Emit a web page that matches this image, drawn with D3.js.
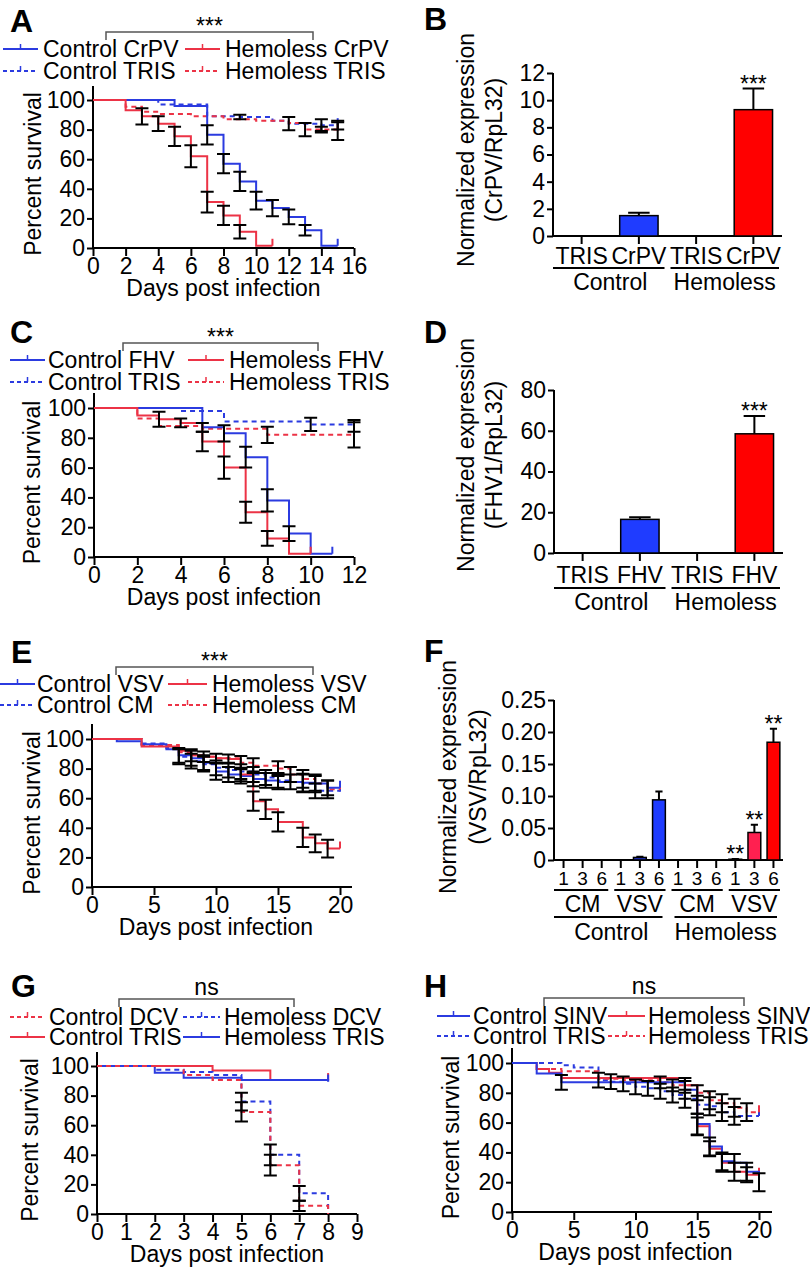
<!DOCTYPE html>
<html>
<head>
<meta charset="utf-8">
<script src="https://cdn.jsdelivr.net/npm/d3@7"></script>
<style>
body { margin: 0; background: #fff; }
svg { font-family: "Liberation Sans", Arial, sans-serif; }
.letter { font-weight: bold; font-size: 32px; }
.tick text { font-size: 23px; fill: #000; }
.tick line { stroke: #000; stroke-width: 2; }
</style>
</head>
<body>
<svg id="fig" width="810" height="1269"></svg>
<script>
// survival curves: [day, % survival, sem]  (sem only where an error bar is drawn)
// A - CrPV
var aCtrlCrpv = [[0,100],[5,96],[7,76.5,6.5],[8,57,6.5],[9,45,6.5],[10,32,6],[11,27,5.5],[12,21,5],[13,12,3.5],[14,1.5],[15,1.5]];
var aHemoCrpv = [[0,100],[2,93],[3,89,5.5],[4,84,5],[5,75.5,6.5],[6,62,7.5],[7,31,7],[8,22,6.5],[9,11,4.5],[10,1.5],[11,1.5]];
var aCtrlTris = [[0,100],[4,97],[7,89],[9,88.5,1.5],[11,86],[12,84,4.5],[14,83,4],[15,83,3]];
var aHemoTris = [[0,100],[2,95.5],[3,92],[4,90.5],[6,89],[8,87],[10,86],[12,84.5],[13,80,4.5],[14,80,2],[15,79,6]];

// C - FHV
var cCtrlFhv = [[0,100],[5,87,3],[6,83,5.5],[7,67,7],[8,38,7.5],[9,15.7,5],[10,2.2],[11,2.2]];
var cHemoFhv = [[0,100],[2,95],[3,92.5,5],[4,90,3],[5,77.5,6.5],[6,60,7.5],[7,30,7],[8,12.5,5],[9,2.2],[10,2.2]];
var cCtrlTris = [[0,100],[4,98],[6,91],[10,89,4.5],[12,88,4]];
var cHemoTris = [[0,100],[2,93],[3,88],[5,86],[8,82,5.5],[12,82,8.5]];

// E - VSV
var eCtrlVsv = [[0,100],[2,98.5],[4,96.5],[6,93],[7,89,5],[8,87,5],[9,84,5],[10,78,5.5],[11,76,5],[12,75,5],[13,73,5],[14,72,5],[15,71,5],[17,70.5,6],[18,70,5],[19,67,5],[20,67]];
var eHemoVsv = [[0,100],[4,95],[7,92],[8,89,4],[9,88,3.5],[10,87,3],[11,86.5,3],[12,76,4.5],[13,58,6.5],[14,52.5,6.5],[15,44,6.5],[17,33.5,6.5],[18,29.5,6],[19,26,6],[20,26]];
var eCtrlCm = [[0,100],[4,97],[6,94],[7,88,5],[8,85,5],[9,83,5],[10,80.5,5],[11,79,5],[12,78,5],[13,76,5],[14,74,5],[15,72,5],[16,71,5],[17,70,6],[18,65,5],[20,64.5]];
var eHemoCm = [[0,100],[4,96],[7,91],[8,89],[9,88],[10,87],[12,84,4.5],[13,82,5],[15,80,5],[16,76,5],[17,73,6],[18,70,6],[19,66,6],[20,66]];

// G - DCV
var gCtrlDcv = [[0,100],[3,94],[4,90.5],[5,69,6.5],[6,33,7],[7,5.5,3.5],[8,0]];
var gHemoDcv = [[0,100],[2,97.5],[3,96],[4,94],[5,76,6],[6,40,7],[7,14,5],[8,0]];
var gCtrlTris = [[0,100],[4,97],[6,90.5],[8,90.5]];
var gHemoTris = [[0,100],[2,95.5],[3,92],[5,90.5],[8,89.5]];

// H - SINV
var hCtrlSinv = [[0,100],[2,93],[4,87,5],[14,82,6],[15,59,7],[16,44,6],[17,34,6],[18,33,6],[19,27,6],[20,20,6]];
var hHemoSinv = [[0,100],[2,96],[3,93.5],[4,90],[14,85,5],[15,57.5,6],[16,42.5,5],[17,33,6],[18,27,6],[19,25,5],[20,25]];
var hCtrlTris = [[0,100],[4,98.5],[5,97],[7,88.5,5],[8,87.5,5],[9,86,5],[10,84,5],[11,83,5],[12,81,5],[13,78.5,5],[14,76,6],[15,72,6],[16,71,6],[17,67,6],[18,64.5,6],[20,64.5]];
var hHemoTris = [[0,100],[2,96],[4,94.5],[7,89.5],[9,88.5],[12,87,4],[13,85,4],[15,80,5],[16,75,6],[17,73,6],[18,70,6],[19,67,6],[20,67]];

// bar charts
var bCats = ['TRIS', 'CrPV', 'TRIS', 'CrPV'];
var bGroups = ['Control', 'Hemoless'];
var bMean = [0, 1.5, 0, 9.3];
var bSem = [0, 0.22, 0, 1.55];
var bSig = ['', '', '', '***'];
var bTicks = [0, 2, 4, 6, 8, 10, 12];

var dCats = ['TRIS', 'FHV', 'TRIS', 'FHV'];
var dGroups = ['Control', 'Hemoless'];
var dMean = [0, 16.5, 0, 58.5];
var dSem = [0, 1.1, 0, 8.8];
var dSig = ['', '', '', '***'];
var dTicks = [0, 20, 40, 60, 80];

var fHours = ['1', '3', '6', '1', '3', '6', '1', '3', '6', '1', '3', '6'];
var fTreat = ['CM', 'VSV', 'CM', 'VSV'];
var fGroups = ['Control', 'Hemoless'];
var fMean = [0, 0, 0, 0, 0.004, 0.094, 0, 0, 0, 0.0012, 0.043, 0.184];
var fSem = [0, 0, 0, 0, 0.001, 0.013, 0, 0, 0, 0.0004, 0.012, 0.021];
var fSig = ['', '', '', '', '', '', '', '', '', '**', '**', '**'];
var fTicks = [0, 0.05, 0.10, 0.15, 0.20, 0.25];

var BLUE = '#2b3be0';
var RED = '#ec3346';
var BAR_BLUE = '#1f3cff';
var BAR_RED = '#ff0000';
var FONT = '23px';

var svg = d3.select('#fig');

function drawSurvival(p) {
    var g = svg.append('g');
    var x = d3.scaleLinear().domain(p.xDomain).range([p.left, p.right]);
    var y = d3.scaleLinear().domain([0, 100]).range([p.bottom, p.top]);

    g.append('text')
        .attr('class', 'letter')
        .attr('x', p.letter[0])
        .attr('y', p.letter[1])
        .text(p.name);

    // significance bracket over the legend
    var b = p.bracket;
    g.append('path')
        .attr('d', 'M' + b.x1 + ',' + (b.y + 8) + 'V' + b.y + 'H' + b.x2 + 'V' + (b.y + 8))
        .attr('fill', 'none')
        .attr('stroke', '#555')
        .attr('stroke-width', 1.5);

    g.append('text')
        .attr('x', (b.x1 + b.x2) / 2)
        .attr('y', b.label === 'ns' ? b.y - 4 : b.y + 2)
        .attr('text-anchor', 'middle')
        .style('font-size', FONT)
        .text(b.label);

    // legend
    p.series.forEach(function(s) {
        var ly = p.legend.rows[s.row];
        var c = p.legend.cols[s.col];

        g.append('line')
            .attr('x1', c[0]).attr('x2', c[1])
            .attr('y1', ly).attr('y2', ly)
            .attr('stroke', s.color)
            .attr('stroke-width', 2)
            .attr('stroke-dasharray', s.dash ? '4,3' : null);

        g.append('line')
            .attr('x1', (c[0] + c[1]) / 2).attr('x2', (c[0] + c[1]) / 2)
            .attr('y1', ly).attr('y2', ly - 5)
            .attr('stroke', s.color)
            .attr('stroke-width', 1.5);

        g.append('text')
            .attr('x', c[2])
            .attr('y', ly + 8)
            .style('font-size', FONT)
            .text(s.name);
    });

    // axes
    var xAxis = g.append('g')
        .attr('transform', 'translate(0,' + p.bottom + ')')
        .call(d3.axisBottom(x).tickValues(p.xTicks).tickSize(8).tickPadding(2));
    xAxis.select('.domain').remove();

    var yAxis = g.append('g')
        .attr('transform', 'translate(' + p.left + ',0)')
        .call(d3.axisLeft(y).tickValues([0, 20, 40, 60, 80, 100]).tickSize(6).tickPadding(2));
    yAxis.select('.domain').remove();

    g.append('path')
        .attr('d', 'M' + p.left + ',' + p.axisTop + 'V' + p.bottom + 'H' + p.axisEnd)
        .attr('fill', 'none')
        .attr('stroke', '#000')
        .attr('stroke-width', 2);

    g.append('text')
        .attr('transform', 'translate(' + p.yLabelX + ',' + (p.top + p.bottom) / 2 + ') rotate(-90)')
        .attr('text-anchor', 'middle')
        .style('font-size', FONT)
        .text('Percent survival');

    g.append('text')
        .attr('x', (p.left + p.right) / 2)
        .attr('y', p.bottom + 48)
        .attr('text-anchor', 'middle')
        .style('font-size', FONT)
        .text('Days post infection');

    // Kaplan-Meier step curves
    var line = d3.line()
        .x(function(d) { return x(d[0]); })
        .y(function(d) { return y(d[1]); })
        .curve(d3.curveStepAfter);

    p.series.forEach(function(s) {
        g.append('path')
            .attr('d', line(s.data))
            .attr('fill', 'none')
            .attr('stroke', s.color)
            .attr('stroke-width', 2)
            .attr('stroke-dasharray', s.dash ? '5,4' : null);

        var last = s.data[s.data.length - 1];
        if (last[1] > 0) {
            g.append('line')
                .attr('x1', x(last[0])).attr('x2', x(last[0]))
                .attr('y1', y(last[1])).attr('y2', y(last[1]) - 7)
                .attr('stroke', s.color)
                .attr('stroke-width', 2);
        }
    });

    // error bars on top
    p.series.forEach(function(s) {
        s.data.filter(function(d) { return d[2]; }).forEach(function(d) {
            var cx = x(d[0]);
            var lo = y(d[1] - d[2]);
            var hi = y(d[1] + d[2]);
            g.append('path')
                .attr('d', 'M' + cx + ',' + lo + 'V' + hi +
                    'M' + (cx - 6.5) + ',' + lo + 'H' + (cx + 6.5) +
                    'M' + (cx - 6.5) + ',' + hi + 'H' + (cx + 6.5))
                .attr('fill', 'none')
                .attr('stroke', '#000')
                .attr('stroke-width', 2);
        });
    });
}

function drawBars(p) {
    var g = svg.append('g');
    var x = d3.scaleBand()
        .domain(d3.range(p.mean.length))
        .range([p.left, p.right])
        .paddingInner(0.33)
        .paddingOuter(0.165);
    var y = d3.scaleLinear().domain([0, p.yMax]).range([p.bottom, p.top]);

    g.append('text')
        .attr('class', 'letter')
        .attr('x', p.letter[0])
        .attr('y', p.letter[1])
        .text(p.name);

    var yAxis = g.append('g')
        .attr('transform', 'translate(' + p.left + ',0)')
        .call(d3.axisLeft(y).tickValues(p.yTicks).tickFormat(p.fmt).tickSize(6).tickPadding(2));
    yAxis.select('.domain').remove();

    g.append('path')
        .attr('d', 'M' + p.left + ',' + p.top + 'V' + p.bottom + 'H' + p.right)
        .attr('fill', 'none')
        .attr('stroke', '#000')
        .attr('stroke-width', 2);

    g.selectAll('.cat-tick')
        .data(p.mean)
        .enter()
        .append('line')
        .attr('class', 'cat-tick')
        .attr('x1', function(d, i) { return x(i) + x.bandwidth() / 2; })
        .attr('x2', function(d, i) { return x(i) + x.bandwidth() / 2; })
        .attr('y1', p.bottom)
        .attr('y2', p.bottom + 8)
        .attr('stroke', '#000')
        .attr('stroke-width', 2);

    p.yLabel.forEach(function(t, i) {
        g.append('text')
            .attr('transform', 'translate(' + p.yLabelX[i] + ',' + p.yLabelY + ') rotate(-90)')
            .attr('text-anchor', 'middle')
            .style('font-size', FONT)
            .text(t);
    });

    // bars and upper error bars
    p.mean.forEach(function(m, i) {
        if (m <= 0) {
            return;
        }
        var bx = x(i);
        var bw = x.bandwidth();
        g.append('rect')
            .attr('x', bx)
            .attr('y', y(m))
            .attr('width', bw)
            .attr('height', y(0) - y(m))
            .attr('fill', p.fills[i])
            .attr('stroke', '#000')
            .attr('stroke-width', 1.5);

        var top = y(m + p.sem[i]);
        var cx = bx + bw / 2;
        var cap = bw * 0.28;
        g.append('path')
            .attr('d', 'M' + cx + ',' + y(m) + 'V' + top + 'M' + (cx - cap) + ',' + top + 'H' + (cx + cap))
            .attr('fill', 'none')
            .attr('stroke', '#000')
            .attr('stroke-width', 2);

        if (p.sig[i]) {
            g.append('text')
                .attr('x', cx)
                .attr('y', top + 3)
                .attr('text-anchor', 'middle')
                .style('font-size', FONT)
                .text(p.sig[i]);
        }
    });

    // hierarchical category labels
    var step = x.step();
    p.levels.forEach(function(lv) {
        lv.labels.forEach(function(t, j) {
            var x0 = p.left + j * lv.span * step;
            var x1 = x0 + lv.span * step;
            if (lv.line) {
                g.append('line')
                    .attr('x1', x0 + (j === 0 ? 0 : lv.inset))
                    .attr('x2', x1 - lv.inset)
                    .attr('y1', p.bottom + lv.line)
                    .attr('y2', p.bottom + lv.line)
                    .attr('stroke', '#000')
                    .attr('stroke-width', 2);
            }
            g.append('text')
                .attr('x', (x0 + x1) / 2)
                .attr('y', p.bottom + lv.base)
                .attr('text-anchor', 'middle')
                .style('font-size', lv.size + 'px')
                .text(t);
        });
    });
}

drawSurvival({
    name: 'A', letter: [10, 32],
    left: 93, right: 354, axisEnd: 354, top: 100, bottom: 248, axisTop: 86,
    xDomain: [0, 16], xTicks: d3.range(0, 17, 2), yLabelX: 41,
    bracket: {x1: 106, x2: 313, y: 32, label: '***'},
    legend: {rows: [49, 71], cols: [[3, 38, 43], [185, 220, 225]]},
    series: [
        {name: 'Control TRIS', data: aCtrlTris, color: BLUE, dash: true, col: 0, row: 1},
        {name: 'Hemoless TRIS', data: aHemoTris, color: RED, dash: true, col: 1, row: 1},
        {name: 'Control CrPV', data: aCtrlCrpv, color: BLUE, dash: false, col: 0, row: 0},
        {name: 'Hemoless CrPV', data: aHemoCrpv, color: RED, dash: false, col: 1, row: 0}
    ]
});

drawSurvival({
    name: 'C', letter: [10, 343],
    left: 94, right: 354, axisEnd: 354, top: 408, bottom: 557, axisTop: 393,
    xDomain: [0, 12], xTicks: d3.range(0, 13, 2), yLabelX: 40,
    bracket: {x1: 123, x2: 318, y: 343, label: '***'},
    legend: {rows: [360, 382], cols: [[10, 45, 48], [188, 224, 229]]},
    series: [
        {name: 'Control TRIS', data: cCtrlTris, color: BLUE, dash: true, col: 0, row: 1},
        {name: 'Hemoless TRIS', data: cHemoTris, color: RED, dash: true, col: 1, row: 1},
        {name: 'Control FHV', data: cCtrlFhv, color: BLUE, dash: false, col: 0, row: 0},
        {name: 'Hemoless FHV', data: cHemoFhv, color: RED, dash: false, col: 1, row: 0}
    ]
});

drawSurvival({
    name: 'E', letter: [11, 663],
    left: 92, right: 340, axisEnd: 352, top: 739, bottom: 887, axisTop: 724,
    xDomain: [0, 20], xTicks: [0, 5, 10, 15, 20], yLabelX: 40,
    bracket: {x1: 116, x2: 313, y: 667, label: '***'},
    legend: {rows: [684, 705], cols: [[0, 35, 37], [168, 207, 212]]},
    series: [
        {name: 'Control CM', data: eCtrlCm, color: BLUE, dash: true, col: 0, row: 1},
        {name: 'Hemoless CM', data: eHemoCm, color: RED, dash: true, col: 1, row: 1},
        {name: 'Control VSV', data: eCtrlVsv, color: BLUE, dash: false, col: 0, row: 0},
        {name: 'Hemoless VSV', data: eHemoVsv, color: RED, dash: false, col: 1, row: 0}
    ]
});

drawSurvival({
    name: 'G', letter: [11, 997],
    left: 97, right: 357, axisEnd: 357, top: 1066, bottom: 1214, axisTop: 1052,
    xDomain: [0, 9], xTicks: d3.range(0, 10), yLabelX: 38,
    bracket: {x1: 119, x2: 294, y: 999, label: 'ns'},
    legend: {rows: [1017, 1037], cols: [[10, 45, 49], [183, 220, 224]]},
    series: [
        {name: 'Control TRIS', data: gCtrlTris, color: RED, dash: false, col: 0, row: 1},
        {name: 'Hemoless TRIS', data: gHemoTris, color: BLUE, dash: false, col: 1, row: 1},
        {name: 'Hemoless DCV', data: gHemoDcv, color: BLUE, dash: true, col: 1, row: 0},
        {name: 'Control DCV', data: gCtrlDcv, color: RED, dash: true, col: 0, row: 0}
    ]
});

drawSurvival({
    name: 'H', letter: [424, 997],
    left: 512, right: 759, axisEnd: 772, top: 1063, bottom: 1212, axisTop: 1048,
    xDomain: [0, 20], xTicks: [0, 5, 10, 15, 20], yLabelX: 459,
    bracket: {x1: 544, x2: 744, y: 998, label: 'ns'},
    legend: {rows: [1016, 1036], cols: [[437, 470, 473], [608, 645, 648]]},
    series: [
        {name: 'Control TRIS', data: hCtrlTris, color: BLUE, dash: true, col: 0, row: 1},
        {name: 'Hemoless TRIS', data: hHemoTris, color: RED, dash: true, col: 1, row: 1},
        {name: 'Hemoless SINV', data: hHemoSinv, color: RED, dash: false, col: 1, row: 0},
        {name: 'Control SINV', data: hCtrlSinv, color: BLUE, dash: false, col: 0, row: 0}
    ]
});

drawBars({
    name: 'B', letter: [424, 30],
    left: 553, right: 782, top: 73, bottom: 236, yMax: 12,
    yTicks: bTicks, fmt: d3.format('d'),
    yLabel: ['Normalized expression', '(CrPV/RpL32)'], yLabelX: [474, 502], yLabelY: 150,
    mean: bMean, sem: bSem, sig: bSig,
    fills: [BAR_BLUE, BAR_BLUE, BAR_RED, BAR_RED],
    levels: [
        {labels: bCats, span: 1, base: 28, size: 23},
        {labels: bGroups, span: 2, base: 54, line: 32, inset: 3, size: 23}
    ]
});

drawBars({
    name: 'D', letter: [424, 343],
    left: 554, right: 783, top: 390, bottom: 553, yMax: 80,
    yTicks: dTicks, fmt: d3.format('d'),
    yLabel: ['Normalized expression', '(FHV1/RpL32)'], yLabelX: [474, 502], yLabelY: 455,
    mean: dMean, sem: dSem, sig: dSig,
    fills: [BAR_BLUE, BAR_BLUE, BAR_RED, BAR_RED],
    levels: [
        {labels: dCats, span: 1, base: 30, size: 23},
        {labels: dGroups, span: 2, base: 57, line: 35, inset: 3, size: 23}
    ]
});

drawBars({
    name: 'F', letter: [424, 662],
    left: 554, right: 783, top: 700, bottom: 860, yMax: 0.25,
    yTicks: fTicks, fmt: function(d) { return d === 0 ? '0' : d3.format('.2f')(d); },
    yLabel: ['Normalized expression', '(VSV/RpL32)'], yLabelX: [456, 486], yLabelY: 777,
    mean: fMean, sem: fSem, sig: fSig,
    fills: [BAR_BLUE, BAR_BLUE, BAR_BLUE, BAR_BLUE, '#2233cc', BAR_BLUE,
            BAR_RED, BAR_RED, BAR_RED, '#ff3355', '#ff2050', BAR_RED],
    levels: [
        {labels: fHours, span: 1, base: 25, size: 19},
        {labels: fTreat, span: 3, base: 52, line: 30, inset: 3, size: 23},
        {labels: fGroups, span: 6, base: 80, line: 57, inset: 6, size: 23}
    ]
});
</script>
</body>
</html>
